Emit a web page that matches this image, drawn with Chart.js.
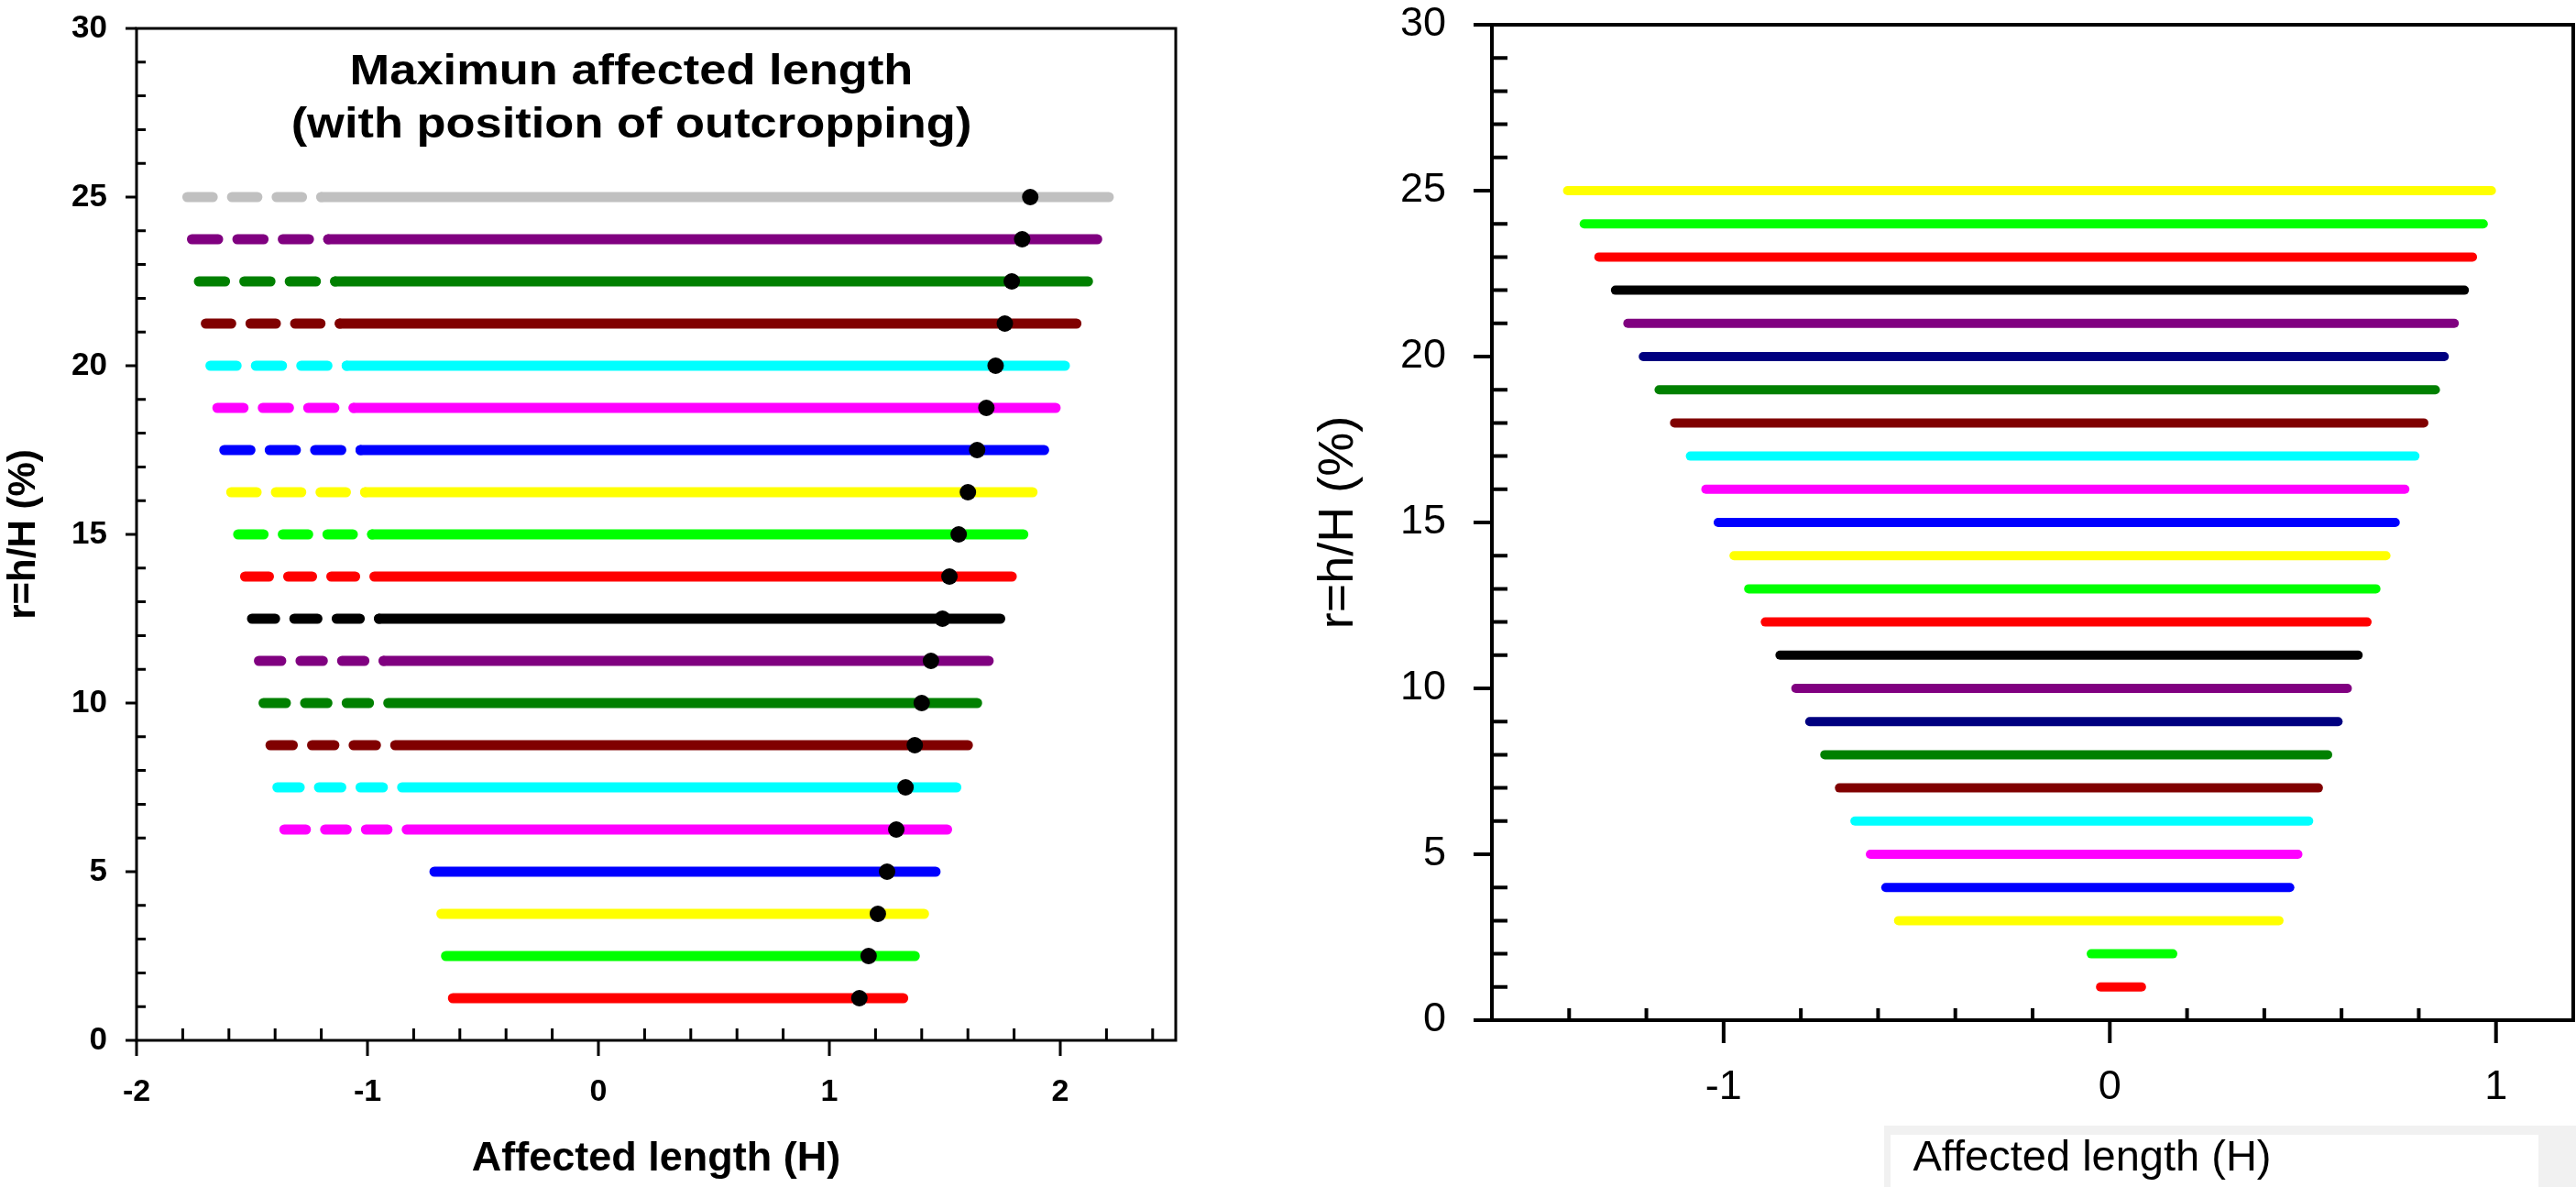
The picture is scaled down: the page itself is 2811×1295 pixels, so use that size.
<!DOCTYPE html>
<html>
<head>
<meta charset="utf-8">
<title>Affected length</title>
<script src="https://cdn.jsdelivr.net/npm/chart.js@4.4.1/dist/chart.umd.min.js"></script>
<style>
    html, body { margin: 0; padding: 0; background: #fff; }
    body { width: 2811px; height: 1295px; position: relative; overflow: hidden; }
    canvas { position: absolute; top: 0; }
    #leftChart { left: 0; }
    #rightChart { left: 1400px; }
    .smudge { position: absolute; left: 2056px; top: 1228px; width: 755px; height: 67px; background: #f1f1f1; }
    .smudge div { position: absolute; left: 7px; top: 10px; width: 707px; height: 57px; background: #fff; }
</style>
</head>
<body>
<div class="smudge"><div></div></div>
<canvas id="leftChart" width="1300" height="1295"></canvas>
<canvas id="rightChart" width="1411" height="1295"></canvas>
<script>
const FONT = "'Liberation Sans', Arial, Helvetica, sans-serif";

// left panel: r = h/H levels, one line each
const leftLevels = [1.25, 2.5, 3.75, 5, 6.25, 7.5, 8.75, 10, 11.25, 12.5,
    13.75, 15, 16.25, 17.5, 18.75, 20, 21.25, 22.5, 23.75, 25];
const leftColors = ["#ff0000", "#00ff00", "#ffff00", "#0000ff", "#ff00ff", "#00ffff", "#800000", "#008000", "#800080", "#000000",
    "#ff0000", "#00ff00", "#ffff00", "#0000ff", "#ff00ff", "#00ffff", "#800000", "#008000", "#800080", "#c0c0c0"];
// dashed part (null = no dashed part), solid part, end, outcropping point
const leftDashStart = [null, null, null, null, -1.36, -1.39, -1.42, -1.45, -1.47, -1.50,
    -1.53, -1.56, -1.59, -1.62, -1.65, -1.68, -1.70, -1.73, -1.76, -1.78];
const leftSolidStart = [-0.63, -0.66, -0.68, -0.71, -0.83, -0.85, -0.88, -0.91, -0.93, -0.95,
    -0.97, -0.98, -1.01, -1.03, -1.06, -1.09, -1.12, -1.14, -1.17, -1.20];
const leftEnd = [1.32, 1.37, 1.41, 1.46, 1.51, 1.55, 1.60, 1.64, 1.69, 1.74,
    1.79, 1.84, 1.88, 1.93, 1.98, 2.02, 2.07, 2.12, 2.16, 2.21];
const leftOutcrop = [1.13, 1.17, 1.21, 1.25, 1.29, 1.33, 1.37, 1.40, 1.44, 1.49,
    1.52, 1.56, 1.60, 1.64, 1.68, 1.72, 1.76, 1.79, 1.835, 1.87];
const leftXTicks = [-2, -1, 0, 1, 2];
const leftYTicks = [0, 5, 10, 15, 20, 25, 30];

// right panel
const rightLevels = [1, 2, 3, 4, 5, 6, 7, 8, 9, 10, 11, 12, 13,
    14, 15, 16, 17, 18, 19, 20, 21, 22, 23, 24, 25];
const rightColors = ["#ff0000", "#00ff00", "#ffff00", "#0000ff", "#ff00ff", "#00ffff", "#800000", "#008000", "#000080", "#800080", "#000000",
    "#ff0000", "#00ff00", "#ffff00", "#0000ff", "#ff00ff", "#00ffff", "#800000", "#008000", "#000080", "#800080", "#000000",
    "#ff0000", "#00ff00", "#ffff00"];
const rightStart = [-0.024, -0.048, -0.547, -0.58, -0.62, -0.66, -0.70, -0.738, -0.777, -0.813,
    -0.854, -0.892, -0.935, -0.973, -1.014, -1.046, -1.086, -1.127, -1.167, -1.208,
    -1.248, -1.28, -1.323, -1.361, -1.404];
const rightEnd = [0.082, 0.163, 0.438, 0.466, 0.487, 0.515, 0.54, 0.564, 0.591, 0.615,
    0.643, 0.666, 0.689, 0.715, 0.739, 0.764, 0.79, 0.813, 0.843, 0.866,
    0.892, 0.918, 0.939, 0.967, 0.988];
const rightXTicks = [-1, 0, 1];
const rightYTicks = [0, 5, 10, 15, 20, 25, 30];

Chart.defaults.animation = false;
Chart.defaults.font.family = FONT;
Chart.defaults.color = "#000";

// three dashes that end exactly where the solid part begins
function threeDashes(ctx) {
    const scale = ctx.chart.scales.x;
    const pts = ctx.dataset.data;
    if (!scale || !pts) return [];
    const span = scale.getPixelForValue(pts[1].x) - scale.getPixelForValue(pts[0].x);
    if (!isFinite(span) || span <= 0) return [];
    const gap = 21;
    return [span / 3 - gap, gap];
}

function near(list, v) {
    return list.some(t => Math.abs(t - v) < 1e-6);
}

// keep the plot area exactly where the layout padding puts it
function fixSize(prop, size) {
    return s => {
        s[prop] = size;
        s.paddingLeft = s.paddingRight = s.paddingTop = s.paddingBottom = 0;
    };
}

// box frame plus major (outward) and minor (inward) tick marks
const axisFrame = {
    id: "axisFrame",
    afterDraw(chart, args, o) {
        const { ctx, chartArea: a, scales: { x, y } } = chart;
        ctx.save();
        ctx.strokeStyle = "#000";
        ctx.lineWidth = o.lineWidth;
        ctx.beginPath();
        ctx.rect(a.left, a.top, a.right - a.left, a.bottom - a.top);
        ctx.stroke();

        ctx.lineWidth = o.tickWidth;
        ctx.beginPath();
        const nx = Math.round((x.max - x.min) / o.minorX);
        for (let i = 1; i < nx; i++) {
            const v = x.min + i * o.minorX;
            if (near(o.xMajor, v)) continue;
            const px = x.getPixelForValue(v);
            ctx.moveTo(px, a.bottom);
            ctx.lineTo(px, a.bottom - o.xIn);
        }
        o.xMajor.forEach(v => {
            const px = x.getPixelForValue(v);
            ctx.moveTo(px, a.bottom);
            ctx.lineTo(px, a.bottom + o.xOut);
        });
        const ny = Math.round((y.max - y.min) / o.minorY);
        for (let i = 1; i < ny; i++) {
            const v = y.min + i * o.minorY;
            if (near(o.yMajor, v)) continue;
            const py = y.getPixelForValue(v);
            ctx.moveTo(a.left, py);
            ctx.lineTo(a.left + o.yIn, py);
        }
        o.yMajor.forEach(v => {
            const py = y.getPixelForValue(v);
            ctx.moveTo(a.left, py);
            ctx.lineTo(a.left - o.yOut, py);
        });
        ctx.stroke();
        ctx.restore();
    }
};

// free text placed on the canvas (baseline = alphabetic)
const freeText = {
    id: "freeText",
    afterDraw(chart, args, o) {
        const ctx = chart.ctx;
        (o.items || []).forEach(t => {
            ctx.save();
            ctx.font = t.font;
            ctx.fillStyle = "#000";
            ctx.textAlign = "center";
            ctx.textBaseline = "alphabetic";
            ctx.translate(t.x, t.y);
            ctx.scale(t.sx || 1, 1);
            ctx.fillText(t.text, 0, 0);
            ctx.restore();
        });
    }
};

// ---------- left chart ----------
const leftDatasets = [];
leftLevels.forEach((lvl, i) => {
    if (leftDashStart[i] !== null) {
        leftDatasets.push({
            data: [{ x: leftDashStart[i], y: lvl }, { x: leftSolidStart[i], y: lvl }],
            borderColor: leftColors[i],
            borderWidth: 11,
            borderCapStyle: "round",
            borderDash: threeDashes,
            showLine: true,
            pointRadius: 0,
            order: 1
        });
    }
    leftDatasets.push({
        data: [{ x: leftSolidStart[i], y: lvl }, { x: leftEnd[i], y: lvl }],
        borderColor: leftColors[i],
        borderWidth: 11,
        borderCapStyle: "round",
        showLine: true,
        pointRadius: 0,
        order: 1
    });
});
leftDatasets.push({
    data: leftLevels.map((lvl, i) => ({ x: leftOutcrop[i], y: lvl })),
    showLine: false,
    pointRadius: 9,
    pointBackgroundColor: "#000",
    pointBorderWidth: 0,
    order: 0
});

new Chart(document.getElementById("leftChart"), {
    type: "scatter",
    data: { datasets: leftDatasets },
    plugins: [axisFrame, freeText],
    options: {
        responsive: false,
        devicePixelRatio: 1,
        layout: { padding: { left: 0, top: 31, right: 17, bottom: 0 } },
        plugins: {
            legend: { display: false },
            tooltip: { enabled: false },
            axisFrame: { lineWidth: 3, tickWidth: 3, minorX: 0.2, minorY: 1, xMajor: leftXTicks, yMajor: leftYTicks,
                xIn: 13, xOut: 17, yIn: 10, yOut: 12 },
            freeText: {
                items: [
                    { text: "Maximun affected length", x: 689, y: 92, font: "bold 46px " + FONT, sx: 1.14 },
                    { text: "(with position of outcropping)", x: 689, y: 150, font: "bold 46px " + FONT, sx: 1.14 }
                ]
            }
        },
        scales: {
            x: {
                type: "linear", min: -2, max: 2.5,
                afterFit: fixSize("height", 160),
                afterBuildTicks: s => { s.ticks = leftXTicks.map(v => ({ value: v })); },
                grid: { display: false, drawTicks: false },
                border: { display: false },
                ticks: { padding: 40, font: { size: 34, weight: "bold", lineHeight: 1 } },
                title: { display: true, text: "Affected length (H)", font: { size: 45, weight: "bold" }, padding: { top: 0, bottom: 3 } }
            },
            y: {
                type: "linear", min: 0, max: 30,
                afterFit: fixSize("width", 149),
                afterBuildTicks: s => { s.ticks = leftYTicks.map(v => ({ value: v })); },
                grid: { display: false, drawTicks: false },
                border: { display: false },
                ticks: { padding: 32, font: { size: 35, weight: "bold", lineHeight: 1 } },
                title: { display: true, text: "r=h/H (%)", font: { size: 42, weight: "bold" }, padding: { top: 1, bottom: 0 } }
            }
        }
    }
});

// ---------- right chart ----------
const rightDatasets = rightLevels.map((lvl, i) => ({
    data: [{ x: rightStart[i], y: lvl }, { x: rightEnd[i], y: lvl }],
    borderColor: rightColors[i],
    borderWidth: 10,
    borderCapStyle: "round",
    showLine: true,
    pointRadius: 0
}));

new Chart(document.getElementById("rightChart"), {
    type: "scatter",
    data: { datasets: rightDatasets },
    plugins: [axisFrame, freeText],
    options: {
        responsive: false,
        devicePixelRatio: 1,
        layout: { padding: { left: 0, top: 27, right: 3, bottom: 0 } },
        plugins: {
            legend: { display: false },
            tooltip: { enabled: false },
            axisFrame: { lineWidth: 4, tickWidth: 4, minorX: 0.2, minorY: 1, xMajor: rightXTicks, yMajor: rightYTicks,
                xIn: 13, xOut: 25, yIn: 17, yOut: 20 },
            freeText: {
                items: [
                    { text: "Affected length (H)", x: 883, y: 1277, font: "47px " + FONT }
                ]
            }
        },
        scales: {
            x: {
                type: "linear", min: -1.6, max: 1.2,
                afterFit: fixSize("height", 182),
                afterBuildTicks: s => { s.ticks = rightXTicks.map(v => ({ value: v })); },
                grid: { display: false, drawTicks: false },
                border: { display: false },
                ticks: { padding: 51, font: { size: 45, lineHeight: 1 } }
            },
            y: {
                type: "linear", min: 0, max: 30,
                afterFit: fixSize("width", 228),
                afterBuildTicks: s => { s.ticks = rightYTicks.map(v => ({ value: v })); },
                grid: { display: false, drawTicks: false },
                border: { display: false },
                ticks: { padding: 50, font: { size: 45, lineHeight: 1 } },
                title: { display: true, text: "r=h/H (%)", font: { size: 54 }, padding: { top: 29, bottom: 0 } }
            }
        }
    }
});
</script>
</body>
</html>
